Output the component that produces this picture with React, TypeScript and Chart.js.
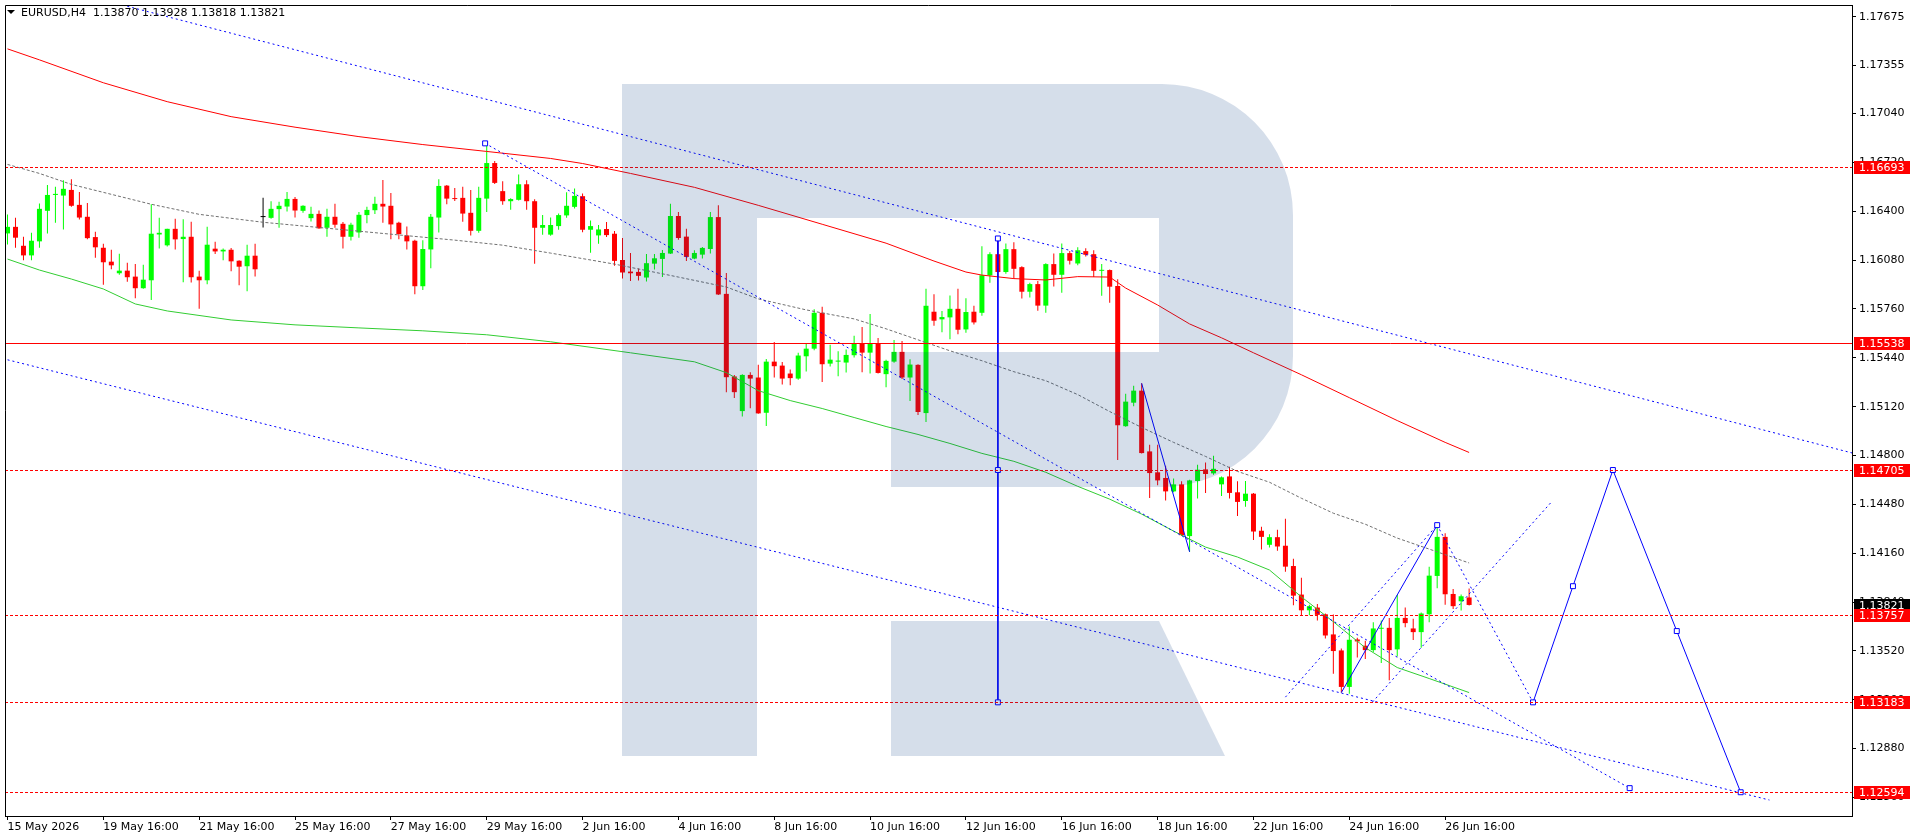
import React, { useEffect, useRef } from 'react';
import { Chart, registerables } from 'chart.js';

Chart.register(...registerables);

const SYMBOL = 'EURUSD,H4';

const X_TICKS = [0, 12, 24, 36, 48, 60, 72, 84, 96, 108, 120, 132, 144, 156, 168, 180];
const X_TICK_LABELS = [
  '15 May 2026', '19 May 16:00', '21 May 16:00', '25 May 16:00', '27 May 16:00', '29 May 16:00',
  '2 Jun 16:00', '4 Jun 16:00', '8 Jun 16:00', '10 Jun 16:00', '12 Jun 16:00', '16 Jun 16:00',
  '18 Jun 16:00', '22 Jun 16:00', '24 Jun 16:00', '26 Jun 16:00',
];
const Y_TICKS = [1.17675, 1.17355, 1.1704, 1.1672, 1.164, 1.1608, 1.1576, 1.1544, 1.1512, 1.148, 1.1448, 1.1416, 1.1384, 1.1352, 1.132, 1.1288, 1.1256];

const X_MIN = -0.3125;
const X_MAX = 230.9375;
const Y_MIN = 1.124384;
const Y_MAX = 1.177514;

const OPEN = [
  1.16255, 1.16298, 1.16174, 1.16111, 1.16203, 1.16403, 1.16507, 1.16503, 1.1654, 1.16442,
  1.16364, 1.16231, 1.16161, 1.1607, 1.15994, 1.16011, 1.15972, 1.15896, 1.15948, 1.16248,
  1.16177, 1.16285, 1.16218, 1.16233, 1.15972, 1.15948, 1.16155, 1.16137, 1.16148, 1.16076,
  1.1604, 1.16109, 1.16362, 1.16357, 1.16414, 1.16431, 1.16481, 1.16403, 1.16355, 1.16383,
  1.16292, 1.16364, 1.16318, 1.16233, 1.16261, 1.16375, 1.16407, 1.16449, 1.16436, 1.16325,
  1.16242, 1.16207, 1.15909, 1.1615, 1.16359, 1.16568, 1.16486, 1.16488, 1.1639, 1.16272,
  1.16483, 1.16716, 1.16532, 1.16466, 1.16475, 1.16577, 1.16466, 1.16292, 1.16247, 1.16303,
  1.16373, 1.16429, 1.16499, 1.16279, 1.16242, 1.16284, 1.16253, 1.16081, 1.16005, 1.16003,
  1.15966, 1.16057, 1.16088, 1.16123, 1.16369, 1.16234, 1.1609, 1.16116, 1.16153, 1.16362,
  1.15859, 1.15318, 1.15091, 1.15328, 1.15311, 1.1508, 1.15415, 1.15389, 1.15337, 1.15304,
  1.1545, 1.155, 1.15735, 1.15402, 1.15415, 1.15409, 1.15457, 1.15535, 1.15474, 1.15535,
  1.15333, 1.15415, 1.15479, 1.15311, 1.15394, 1.15078, 1.15742, 1.15692, 1.15705, 1.15761,
  1.15626, 1.15742, 1.15735, 1.1598, 1.16119, 1.16002, 1.16152, 1.16034, 1.15873, 1.15923,
  1.15782, 1.16054, 1.15984, 1.16126, 1.16058, 1.16139, 1.16119, 1.1601, 1.16015, 1.1591,
  1.14992, 1.15146, 1.15225, 1.14827, 1.1469, 1.14653, 1.14565, 1.14611, 1.14272, 1.14633,
  1.14709, 1.14683, 1.14611, 1.14663, 1.14559, 1.14502, 1.1455, 1.14307, 1.14215, 1.14265,
  1.14209, 1.14076, 1.13889, 1.13786, 1.13804, 1.1376, 1.13628, 1.13523, 1.13284, 1.13595,
  1.13554, 1.13525, 1.13665, 1.13671, 1.1353, 1.13736, 1.13667, 1.13643, 1.1376, 1.14011,
  1.14267, 1.13893, 1.13845, 1.1387,
];
const HIGH = [
  1.16379, 1.16357, 1.16233, 1.16259, 1.16451, 1.16573, 1.1656, 1.16603, 1.1661, 1.16527,
  1.16455, 1.16266, 1.16187, 1.16148, 1.16122, 1.16063, 1.16055, 1.1605, 1.16446, 1.16357,
  1.16285, 1.16351, 1.16348, 1.16331, 1.16011, 1.16298, 1.16201, 1.16157, 1.16159, 1.1608,
  1.16181, 1.16187, 1.16488, 1.16466, 1.16462, 1.16527, 1.16494, 1.1644, 1.16429, 1.16405,
  1.16416, 1.16449, 1.16329, 1.16325, 1.16396, 1.16429, 1.16496, 1.16605, 1.1652, 1.16331,
  1.16301, 1.16214, 1.16211, 1.16383, 1.1661, 1.16573, 1.16553, 1.1656, 1.1654, 1.1656,
  1.16845, 1.16729, 1.16597, 1.16486, 1.16641, 1.16604, 1.16479, 1.16375, 1.1636, 1.16386,
  1.16525, 1.16549, 1.16517, 1.1634, 1.1631, 1.16329, 1.16271, 1.16225, 1.16127, 1.16025,
  1.1612, 1.1612, 1.16147, 1.16449, 1.16395, 1.16286, 1.16144, 1.16166, 1.16395, 1.1644,
  1.15996, 1.15328, 1.15333, 1.15346, 1.15394, 1.15433, 1.15544, 1.15413, 1.15363, 1.15474,
  1.15533, 1.15759, 1.15774, 1.15526, 1.15483, 1.15494, 1.15585, 1.15642, 1.15727, 1.1557,
  1.15428, 1.15557, 1.1555, 1.15431, 1.15398, 1.15892, 1.15857, 1.15746, 1.15848, 1.15892,
  1.15831, 1.15781, 1.16171, 1.16132, 1.1623, 1.16189, 1.16197, 1.1604, 1.15932, 1.15943,
  1.1606, 1.16124, 1.16189, 1.16139, 1.16165, 1.16158, 1.16145, 1.16054, 1.16019, 1.15954,
  1.15205, 1.15257, 1.15273, 1.1487, 1.1487, 1.14733, 1.1465, 1.14631, 1.14642, 1.1474,
  1.14755, 1.14798, 1.14663, 1.14727, 1.14631, 1.14633, 1.14555, 1.14333, 1.14285, 1.14313,
  1.14385, 1.14124, 1.14, 1.13823, 1.13828, 1.13765, 1.13758, 1.13536, 1.1368, 1.13606,
  1.13586, 1.13708, 1.13719, 1.13736, 1.13887, 1.13804, 1.1373, 1.13771, 1.14072, 1.14344,
  1.14291, 1.13926, 1.13889, 1.13928,
];
const LOW = [
  1.16183, 1.16161, 1.16079, 1.16079, 1.16161, 1.16255, 1.16325, 1.16281, 1.16429, 1.16346,
  1.16216, 1.16096, 1.15918, 1.1602, 1.15985, 1.15939, 1.15831, 1.15892, 1.15818, 1.16157,
  1.1617, 1.1615, 1.15935, 1.15933, 1.15761, 1.15922, 1.1612, 1.16079, 1.16007, 1.15915,
  1.15876, 1.15972, 1.16294, 1.16351, 1.16292, 1.16399, 1.16359, 1.1639, 1.16333, 1.16285,
  1.16233, 1.16292, 1.16157, 1.16209, 1.16227, 1.16322, 1.16383, 1.16325, 1.16216, 1.16216,
  1.1615, 1.15857, 1.15885, 1.16026, 1.16261, 1.16446, 1.16468, 1.16331, 1.16242, 1.16259,
  1.16396, 1.16579, 1.16443, 1.1641, 1.1647, 1.1641, 1.16057, 1.16247, 1.1624, 1.16279,
  1.16358, 1.16419, 1.16262, 1.16129, 1.16188, 1.16231, 1.16044, 1.15959, 1.15944, 1.15946,
  1.1594, 1.16018, 1.1597, 1.1612, 1.16214, 1.16075, 1.16086, 1.1609, 1.16123, 1.15852,
  1.15215, 1.15176, 1.15056, 1.15109, 1.15074, 1.14993, 1.15311, 1.15265, 1.15261, 1.15296,
  1.1535, 1.15489, 1.15281, 1.15383, 1.1532, 1.15344, 1.15442, 1.15346, 1.15337, 1.15337,
  1.15248, 1.15407, 1.15302, 1.15157, 1.15065, 1.15019, 1.1565, 1.15607, 1.15561, 1.15594,
  1.15605, 1.15659, 1.15716, 1.15932, 1.15969, 1.15991, 1.15958, 1.15828, 1.15836, 1.15749,
  1.15736, 1.15908, 1.15867, 1.16052, 1.16047, 1.16104, 1.15969, 1.15847, 1.15801, 1.1477,
  1.14988, 1.15123, 1.14814, 1.14522, 1.14605, 1.14505, 1.1456, 1.14272, 1.14169, 1.14518,
  1.14555, 1.14674, 1.14535, 1.14518, 1.14404, 1.14465, 1.14246, 1.14185, 1.14198, 1.14176,
  1.14039, 1.13819, 1.13756, 1.13754, 1.13719, 1.13602, 1.13371, 1.13247, 1.1324, 1.13477,
  1.13467, 1.13512, 1.1344, 1.13327, 1.13484, 1.13675, 1.13591, 1.13541, 1.13708, 1.1393,
  1.13823, 1.13795, 1.13784, 1.13818,
];
const CLOSE = [
  1.16298, 1.16227, 1.16111, 1.16207, 1.16416, 1.16507, 1.16514, 1.16547, 1.16436, 1.16359,
  1.16224, 1.16164, 1.16066, 1.16046, 1.16011, 1.15968, 1.15896, 1.15952, 1.16253, 1.16259,
  1.16285, 1.16216, 1.16233, 1.15968, 1.15948, 1.16181, 1.16137, 1.16148, 1.16072, 1.16037,
  1.16109, 1.1602, 1.16362, 1.16416, 1.16436, 1.16481, 1.16405, 1.16436, 1.16383, 1.16288,
  1.16364, 1.16312, 1.16233, 1.16312, 1.16377, 1.16409, 1.16449, 1.16431, 1.16314, 1.16251,
  1.16203, 1.15909, 1.16153, 1.16364, 1.16566, 1.16483, 1.1648, 1.16385, 1.16272, 1.16488,
  1.16716, 1.16586, 1.16466, 1.1648, 1.16577, 1.16466, 1.16292, 1.1631, 1.1631, 1.16375,
  1.16436, 1.16501, 1.16279, 1.16303, 1.16281, 1.16244, 1.16075, 1.15999, 1.15994, 1.15977,
  1.1606, 1.16092, 1.16127, 1.16369, 1.16225, 1.16101, 1.16127, 1.1616, 1.16362, 1.15855,
  1.15313, 1.15215, 1.15328, 1.15304, 1.15076, 1.15415, 1.15385, 1.15304, 1.15307, 1.15455,
  1.155, 1.15735, 1.15398, 1.15428, 1.15422, 1.15459, 1.15535, 1.15474, 1.15535, 1.15341,
  1.1542, 1.15479, 1.15311, 1.15396, 1.15085, 1.15781, 1.15683, 1.15707, 1.15761, 1.15624,
  1.1574, 1.15672, 1.15981, 1.16119, 1.16002, 1.16152, 1.16023, 1.15873, 1.15923, 1.15782,
  1.16054, 1.15984, 1.16126, 1.16076, 1.16145, 1.16115, 1.1601, 1.16013, 1.15906, 1.14999,
  1.15153, 1.15225, 1.14816, 1.14685, 1.14637, 1.14565, 1.14611, 1.14278, 1.14637, 1.14707,
  1.14679, 1.14713, 1.14657, 1.14555, 1.14496, 1.1455, 1.14302, 1.14267, 1.14265, 1.14204,
  1.14072, 1.13882, 1.13786, 1.13813, 1.13756, 1.13621, 1.13519, 1.13284, 1.13593, 1.13582,
  1.13525, 1.13667, 1.13669, 1.13525, 1.13736, 1.13702, 1.13643, 1.13765, 1.14013, 1.14267,
  1.13891, 1.13813, 1.13878, 1.13821,
];

// Moving averages (sampled along the bar index)
const RED_MA_X = [0, 4, 12, 20, 28, 36, 44, 52, 60, 68, 72, 78, 86, 94, 102, 110, 116, 120, 122, 126, 130, 134, 138, 140, 144, 148, 152, 156, 162, 168, 174, 180, 183];
const RED_MA = [1.17464, 1.17392, 1.17242, 1.17118, 1.1702, 1.16951, 1.16889, 1.16837, 1.16792, 1.16746, 1.16713, 1.16648, 1.16557, 1.16439, 1.16315, 1.16191, 1.16074, 1.16002, 1.15982, 1.15959, 1.1595, 1.15972, 1.15969, 1.15897, 1.15786, 1.15662, 1.15571, 1.15473, 1.15329, 1.15179, 1.15029, 1.14886, 1.1482];
const GREEN_MA_X = [0, 4, 8, 12, 16, 20, 28, 36, 44, 52, 60, 68, 78, 86, 90, 94, 98, 102, 106, 110, 114, 118, 122, 126, 130, 134, 138, 142, 146, 150, 154, 158, 162, 166, 170, 174, 178, 183];
const GREEN_MA = [1.16087, 1.16015, 1.15956, 1.15891, 1.15793, 1.15747, 1.15688, 1.15656, 1.15636, 1.15617, 1.15591, 1.15545, 1.15473, 1.15414, 1.15343, 1.15225, 1.1516, 1.15108, 1.15049, 1.1499, 1.14938, 1.14879, 1.14814, 1.14762, 1.1469, 1.14598, 1.14514, 1.14416, 1.14305, 1.142, 1.14135, 1.1405, 1.13874, 1.13711, 1.13541, 1.13411, 1.13339, 1.13247];
const GRAY_MA_X = [0, 4, 8, 12, 18, 24, 32, 40, 48, 56, 62, 68, 76, 84, 90, 94, 100, 106, 110, 114, 118, 122, 126, 130, 134, 138, 142, 146, 150, 154, 158, 162, 166, 170, 174, 178, 183];
const GRAY_MA = [1.16707, 1.16648, 1.16576, 1.16524, 1.16446, 1.1638, 1.16328, 1.16289, 1.1625, 1.16211, 1.16178, 1.16126, 1.16054, 1.15969, 1.15904, 1.15826, 1.15754, 1.15695, 1.1563, 1.15558, 1.15486, 1.15421, 1.15349, 1.1529, 1.15199, 1.15088, 1.14984, 1.14886, 1.14794, 1.14696, 1.14625, 1.1452, 1.14422, 1.1435, 1.14259, 1.14187, 1.14096];

// Horizontal levels
const DASHED_LEVELS = [1.16693, 1.14705, 1.13757, 1.13183, 1.12594];
const SOLID_LEVELS = [1.15538];

// Trend lines (bar index, price)
const UPPER_CH_X = [14.4, 231];
const UPPER_CH_Y = [1.17751, 1.14816];
const LOWER_CH_X = [-0.6, 220.6];
const LOWER_CH_Y = [1.15435, 1.12543];
const DIAG_X = [59.8, 203.1];
const DIAG_Y = [1.16845, 1.12621];
const RISE_A_X = [160, 179];
const RISE_A_Y = [1.13217, 1.14344];
const RISE_B_X = [170.9, 193.4];
const RISE_B_Y = [1.13185, 1.14501];
const DROP_X = [179, 191];
const DROP_Y = [1.14344, 1.13183];
const SWING1_X = [142, 148];
const SWING1_Y = [1.15273, 1.14169];
const SWING2_X = [167, 179];
const SWING2_Y = [1.13247, 1.14344];
const VERT_X = [124, 124, 124];
const VERT_Y = [1.16222, 1.14705, 1.13183];
const PROJ_X = [191, 196, 201, 209, 217];
const PROJ_Y = [1.13183, 1.13944, 1.14705, 1.1365, 1.12594];

const RED = '#ff0000';
const GREEN = '#00ff00';
const BLUE = '#0000ff';
const FONT = 'DejaVu Sans';

function lineDs(xs: number[], ys: number[], color: string, extra: any = {}) {
  return {
    type: 'line',
    data: xs.map((x, i) => ({ x, y: ys[i] })),
    borderColor: color,
    borderWidth: 1,
    pointRadius: 0,
    tension: 0,
    fill: false,
    ...extra,
  };
}

const square = (r: any) => ({
  pointStyle: 'rect',
  pointRadius: r,
  pointBackgroundColor: '#ffffff',
  pointBorderColor: BLUE,
  pointBorderWidth: 1,
});

const decorPlugin = {
  id: 'decor',
  afterDatasetsDraw(chart: any) {
    const c = chart.ctx;
    const { left, top, right, bottom } = chart.chartArea;
    const ys = chart.scales.y;
    c.save();
    c.beginPath();
    c.rect(left, top, right - left, bottom - top);
    c.clip();
    // horizontal levels, pixel aligned
    c.lineWidth = 1;
    c.strokeStyle = RED;
    const hline = (v: number, dash: number[]) => {
      const py = Math.round(ys.getPixelForValue(v)) + 0.5;
      c.setLineDash(dash);
      c.beginPath();
      c.moveTo(left, py);
      c.lineTo(right, py);
      c.stroke();
    };
    DASHED_LEVELS.forEach((v) => hline(v, [3, 2]));
    SOLID_LEVELS.forEach((v) => hline(v, []));
    c.setLineDash([]);

    // watermark logo
    c.fillStyle = 'rgba(0,55,125,0.165)';
    c.beginPath();
    c.moveTo(622, 84);
    c.lineTo(1162, 84);
    c.arcTo(1293, 84, 1293, 215, 131);
    c.lineTo(1293, 356);
    c.arcTo(1293, 487, 1162, 487, 131);
    c.lineTo(891, 487);
    c.lineTo(891, 352);
    c.lineTo(1159, 352);
    c.lineTo(1159, 218);
    c.lineTo(757, 218);
    c.lineTo(757, 756);
    c.lineTo(622, 756);
    c.closePath();
    c.fill();
    c.beginPath();
    c.moveTo(891, 621);
    c.lineTo(1159, 621);
    c.lineTo(1225, 756);
    c.lineTo(891, 756);
    c.closePath();
    c.fill();
    c.restore();
  },
  afterDraw(chart: any) {
    const c = chart.ctx;
    const { left, top, right, bottom } = chart.chartArea;
    c.save();
    c.strokeStyle = '#000';
    c.lineWidth = 1;
    c.beginPath();
    c.moveTo(left + 0.5, bottom);
    c.lineTo(left + 0.5, top + 0.5);
    c.lineTo(right, top + 0.5);
    c.stroke();

    const ys = chart.scales.y;
    c.font = `11px "${FONT}"`;
    c.textBaseline = 'middle';
    c.textAlign = 'left';
    const box = (v: number, bg: string) => {
      const py = Math.round(ys.getPixelForValue(v));
      c.fillStyle = bg;
      c.fillRect(right + 2, py - 6, 56, 13);
      c.fillStyle = '#ffffff';
      c.fillText(v.toFixed(5), right + 7, py + 1);
    };
    box(CLOSE[CLOSE.length - 1], '#000000');
    [...DASHED_LEVELS, ...SOLID_LEVELS].forEach((v) => box(v, RED));

    // header
    const n = OPEN.length - 1;
    c.fillStyle = '#000';
    c.beginPath();
    c.moveTo(7, 10);
    c.lineTo(15, 10);
    c.lineTo(11, 14);
    c.closePath();
    c.fill();
    const txt = `${SYMBOL}  ${OPEN[n].toFixed(5)} ${HIGH[n].toFixed(5)} ${LOW[n].toFixed(5)} ${CLOSE[n].toFixed(5)}`;
    c.fillText(txt, 21, 13);
    c.restore();
  },
};

export default function App() {
  const ref = useRef<HTMLCanvasElement>(null);

  useEffect(() => {
    document.body.style.margin = '0';
    const canvas = ref.current;
    if (!canvas) return;
    const idx = OPEN.map((_, i) => i);
    const colorOf = (i: number) => (CLOSE[i] > OPEN[i] ? GREEN : CLOSE[i] < OPEN[i] ? RED : '#000000');
    const colors = idx.map(colorOf);

    const datasets: any[] = [
      {
        type: 'bar',
        data: idx.map((i) => ({ x: i, y: [LOW[i], HIGH[i]] })),
        backgroundColor: colors,
        borderWidth: 0,
        barThickness: 1,
        grouped: false,
        inflateAmount: 0,
        order: 20,
      },
      {
        type: 'bar',
        data: idx.map((i) => ({ x: i, y: [Math.min(OPEN[i], CLOSE[i]), Math.max(OPEN[i], CLOSE[i])] })),
        backgroundColor: colors,
        borderWidth: 0,
        barThickness: 5,
        grouped: false,
        inflateAmount: 0,
        minBarLength: 1,
        order: 19,
      },
      lineDs(GRAY_MA_X, GRAY_MA, '#707070', { borderDash: [3, 2], order: 12 }),
      lineDs(GREEN_MA_X, GREEN_MA, '#32cd32', { order: 12 }),
      lineDs(RED_MA_X, RED_MA, RED, { order: 12 }),
      lineDs(UPPER_CH_X, UPPER_CH_Y, BLUE, { borderDash: [2, 3], order: 5 }),
      lineDs(LOWER_CH_X, LOWER_CH_Y, BLUE, { borderDash: [2, 3], order: 5 }),
      lineDs(DIAG_X, DIAG_Y, BLUE, { borderDash: [2, 3], order: 5, ...square([3.5, 3.5]) }),
      lineDs(RISE_A_X, RISE_A_Y, BLUE, { borderDash: [2, 3], order: 5 }),
      lineDs(RISE_B_X, RISE_B_Y, BLUE, { borderDash: [2, 3], order: 5 }),
      lineDs(DROP_X, DROP_Y, BLUE, { borderDash: [2, 3], order: 5 }),
      lineDs(SWING1_X, SWING1_Y, BLUE, { order: 4 }),
      lineDs(SWING2_X, SWING2_Y, BLUE, { order: 4, ...square([0, 3.5]) }),
      lineDs(VERT_X, VERT_Y, BLUE, { order: 4, ...square(3.5) }),
      lineDs(PROJ_X, PROJ_Y, BLUE, { order: 3, ...square(3.5) }),
    ];

    const chart = new Chart(canvas, {
      type: 'line',
      data: { datasets },
      plugins: [decorPlugin],
      options: {
        responsive: false,
        animation: false,
        devicePixelRatio: 1,
        events: [],
        layout: { padding: { left: 2, top: 2, right: 0, bottom: 0 } },
        plugins: { legend: { display: false }, tooltip: { enabled: false } },
        scales: {
          x: {
            type: 'linear',
            position: 'bottom',
            min: X_MIN,
            max: X_MAX,
            bounds: 'data',
            offset: false,
            grid: { display: true, drawOnChartArea: false, drawTicks: true, tickLength: 4, color: '#000', offset: false },
            border: { display: true, color: '#000', width: 1 },
            afterBuildTicks: (s: any) => {
              s.ticks = X_TICKS.map((v) => ({ value: v }));
            },
            afterFit: (s: any) => {
              s.height = 24;
              s.paddingLeft = 0;
              s.paddingRight = 0;
            },
            ticks: {
              autoSkip: false,
              maxRotation: 0,
              minRotation: 0,
              align: 'start',
              padding: 1,
              color: '#000',
              font: { family: FONT, size: 11 },
              callback: (_v: any, i: number) => X_TICK_LABELS[i],
            },
          },
          y: {
            type: 'linear',
            position: 'right',
            min: Y_MIN,
            max: Y_MAX,
            bounds: 'data',
            grid: { display: true, drawOnChartArea: false, drawTicks: true, tickLength: 4, color: '#000' },
            border: { display: true, color: '#000', width: 1 },
            afterBuildTicks: (s: any) => {
              s.ticks = Y_TICKS.map((v) => ({ value: v }));
            },
            afterFit: (s: any) => {
              s.width = 64;
              s.paddingTop = 0;
              s.paddingBottom = 0;
            },
            ticks: {
              autoSkip: false,
              crossAlign: 'near',
              padding: 3,
              color: '#000',
              font: { family: FONT, size: 11 },
              callback: (v: any) => Number(v).toFixed(5),
            },
          },
        },
      } as any,
    } as any);

    return () => chart.destroy();
  }, []);

  return (
    <div style={{ position: 'fixed', left: 0, top: 0, width: 1916, height: 840, background: '#ffffff' }}>
      <canvas ref={ref} width={1916} height={840} style={{ display: 'block', width: 1916, height: 840 }} />
    </div>
  );
}
